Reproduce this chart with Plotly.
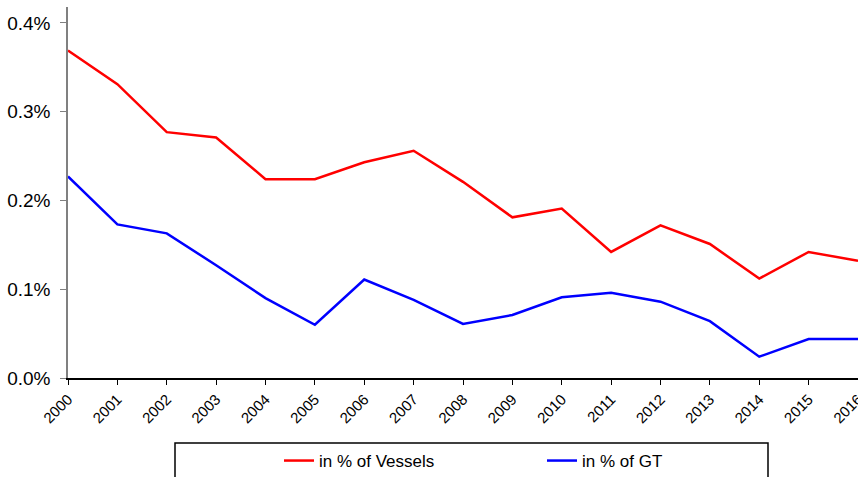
import plotly.graph_objects as go

years = [str(y) for y in range(2000, 2017)]
vessels = [0.00369, 0.00331, 0.00277, 0.00271, 0.00224, 0.00224, 0.00243, 0.00256, 0.00221,
           0.00181, 0.00191, 0.00142, 0.00172, 0.00151, 0.00112, 0.00142, 0.00132]
gt = [0.00227, 0.00173, 0.00163, 0.00127, 0.00090, 0.00060, 0.00111, 0.00088, 0.00061,
      0.00071, 0.00091, 0.00096, 0.00086, 0.00064, 0.00024, 0.00044, 0.00044]
y_ticks = [0, 0.001, 0.002, 0.003, 0.004]
y_tick_text = ["0.0%", "0.1%", "0.2%", "0.3%", "0.4%"]

W, H = 858, 477
L, R, T, B = 68, 0, 7, 99
pw, ph = W - L - R, H - T - B

def px_x(p):
    return (p - L) / pw

def px_y(p):
    return (H - B - p) / ph

fig = go.Figure()
fig.add_trace(go.Scatter(x=list(range(len(years))), y=vessels, mode="lines",
                         line=dict(color="#FF0000", width=2.5), name="in % of Vessels",
                         legend="legend"))
fig.add_trace(go.Scatter(x=list(range(len(years))), y=gt, mode="lines",
                         line=dict(color="#0000FF", width=2.5), name="in % of GT",
                         legend="legend2"))

fig.add_shape(type="rect", xref="paper", yref="paper",
              x0=px_x(175), x1=px_x(768), y0=px_y(443), y1=px_y(520),
              line=dict(color="black", width=1.5), fillcolor="rgba(0,0,0,0)")

legend_common = dict(orientation="h", yanchor="middle", xanchor="left",
                     bgcolor="rgba(0,0,0,0)", borderwidth=0,
                     font=dict(family="Liberation Sans, Arial, sans-serif", size=17, color="black"),
                     itemwidth=30)

fig.update_layout(
    width=W, height=H,
    margin=dict(l=L, r=R, t=T, b=B, autoexpand=False),
    paper_bgcolor="white", plot_bgcolor="white",
    font=dict(family="Liberation Sans, Arial, sans-serif", color="black"),
    showlegend=True,
    legend=dict(x=px_x(279), y=px_y(461), **legend_common),
    legend2=dict(x=px_x(542), y=px_y(461), **legend_common),
    xaxis=dict(range=[0, len(years) - 1], tickmode="array",
               tickvals=list(range(len(years))), ticktext=years,
               tickangle=-45, tickfont=dict(size=15), automargin=False,
               ticklabeloverflow="allow",
               showline=True, linecolor="black", linewidth=1.5,
               ticks="outside", ticklen=5, tickcolor="black",
               showgrid=False, zeroline=False),
    yaxis=dict(range=[0, 0.00418], tickmode="array", tickvals=y_ticks,
               ticktext=y_tick_text, tickfont=dict(size=19), automargin=False,
               ticklabelstandoff=6,
               showline=True, linecolor="#808080", linewidth=1.5,
               ticks="outside", ticklen=6, tickcolor="#808080",
               showgrid=False, zeroline=False),
)

fig.write_html("out.html", config={"displayModeBar": False},
               post_script="document.body.style.margin='0';document.body.style.overflow='hidden';")
